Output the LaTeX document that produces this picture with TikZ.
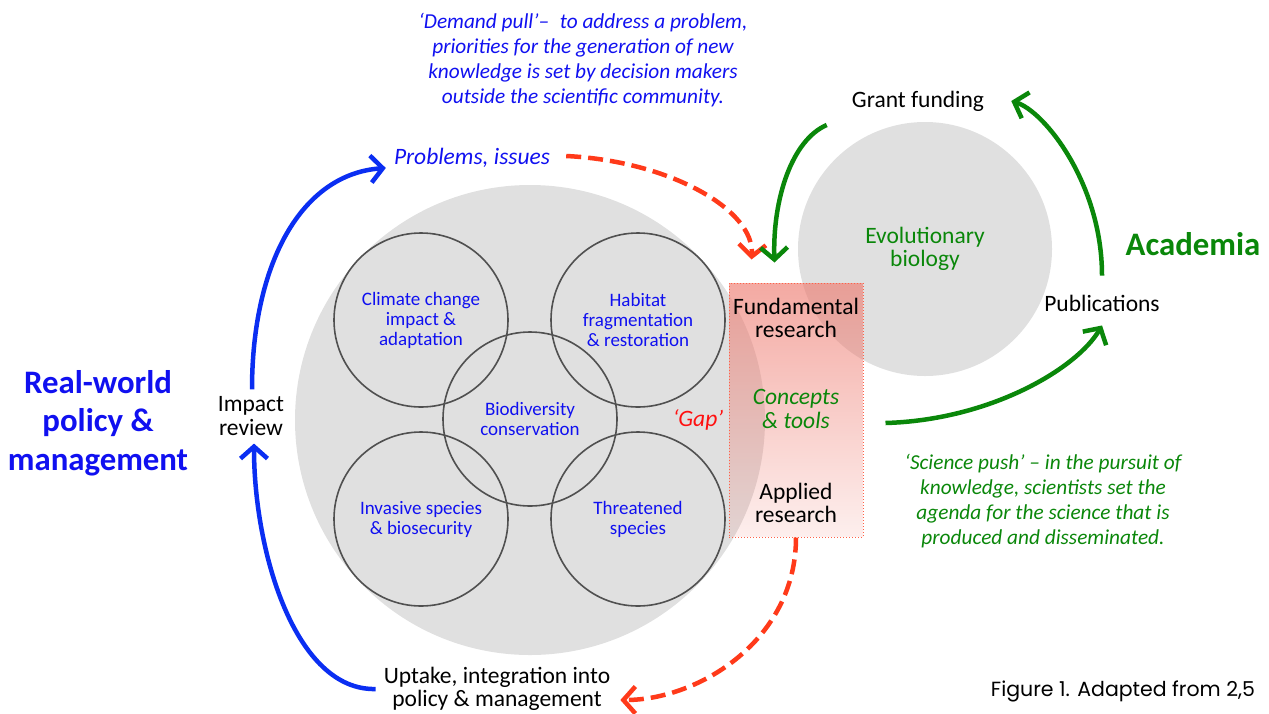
\documentclass[tikz,border=0pt]{standalone}
\usepackage{fontspec}
\setmainfont{Carlito}
\newfontfamily\capfont{Poppins}
\usetikzlibrary{arrows.meta,fadings}
\definecolor{arenagray}{HTML}{E0E0E0}
\definecolor{ringgray}{HTML}{505050}
\definecolor{topicblue}{HTML}{1010F0}
\definecolor{flowblue}{HTML}{0A2EF2}
\definecolor{acadgreen}{HTML}{0A870A}
\definecolor{pullred}{HTML}{FF3A1A}
\definecolor{gapred}{HTML}{EE7B70}
\definecolor{gaptext}{HTML}{FF1010}
\tikzfading[name=gapfade, top color=transparent!35, bottom color=transparent!88]

\begin{document}
\begin{tikzpicture}[x=1pt,y=-1pt,
  every node/.style={inner sep=0pt,align=center},
  txt/.style={font=\fontsize{23.5}{23.5}\selectfont},
  itxt/.style={font=\fontsize{23.5}{23.5}\selectfont\itshape},
  note/.style={font=\fontsize{21.3}{25}\selectfont\itshape},
  head/.style={font=\fontsize{32.8}{38.5}\selectfont\bfseries},
  ring/.style={circle,draw=ringgray,line width=1.6pt,minimum size=174pt,
    text=topicblue,font=\fontsize{19}{20}\selectfont},
  gapbox/.style={draw=pullred!80,dotted,line width=1pt,minimum width=134pt,
    minimum height=254pt,preaction={fill=gapred,path fading=gapfade}},
  tip/.style={-{Straight Barb[length=12pt,width=27pt]}},
  blueflow/.style={tip,flowblue,line width=4.5pt},
  greenflow/.style={tip,acadgreen,line width=4.5pt},
  redflow/.style={tip,pullred,line width=4.5pt,dash pattern=on 15pt off 7pt}]
\useasboundingbox (0,0) rectangle (1269,713);

% research arena and topic rings
\node[circle,fill=arenagray,minimum size=470pt] (arena) at (530,420) {};
\node[ring] (climate) at (421,320) {Climate change\\impact \&\\adaptation};
\node[ring] (habitat) at (638,320) {Habitat\\fragmentation\\\& restoration};
\node[ring] (invasive) at (421,519) {Invasive species\\\& biosecurity};
\node[ring] (threat) at (638,519) {Threatened\\species};
\node[ring] (biodiv) at (530,419) {Biodiversity\\conservation};
\node[circle,fill=arenagray,minimum size=254pt,txt,text=acadgreen] (evo) at (925,249) {Evolutionary\\biology};

% the gap between the two worlds
\node[gapbox] (box) at (796,410) {};
\node[txt] (fund) at (796,318) {Fundamental\\research};
\node[itxt,text=acadgreen] (tools) at (796,409) {Concepts\\\& tools};
\node[txt] (applied) at (796,503) {Applied\\research};
\node[itxt,text=gaptext] (gaplbl) at (698,420) {`Gap'};

% policy side
\node[head,text=topicblue] (world) at (98,423) {Real-world\\policy \&\\management};
\node[txt] (impact) at (251,416) {Impact\\review};
\node[itxt,text=topicblue] (problems) at (472,158) {Problems, issues};
\node[txt] (uptake) at (497,689) {Uptake, integration into\\policy \& management};
\node[note,text=topicblue] (pull) at (583,60) {`Demand pull'--\enspace to address a problem,\\priorities for the generation of new\\knowledge is set by decision makers\\outside the scientific community.};

% academic side
\node[txt] (grant) at (918,101) {Grant funding};
\node[txt] (pubs) at (1102,303) {Publications};
\node[head,text=acadgreen] (academia) at (1193,244) {Academia};
\node[note,text=acadgreen] (push) at (1043,501) {`Science push' -- in the pursuit of\\knowledge, scientists set the\\agenda for the science that is\\produced and disseminated.};
\node[font=\fontsize{20.5}{22}\selectfont\capfont] (figcap) at (1123,691) {Figure 1. Adapted from 2,5};

% flows
\draw[blueflow] ([xshift=1pt,yshift=7pt]impact.north) .. controls +(0,-125) and +(-85,6) .. ([xshift=-8pt,yshift=-10pt]problems.west);
\draw[blueflow] ([xshift=-8pt]uptake.west) .. controls +(-80,2) and +(0,109) .. ([xshift=3pt,yshift=-8pt]impact.south);
\draw[redflow] ([xshift=16pt,yshift=2pt]problems.east) .. controls +(103,5) and +(3,-50) .. ([xshift=23pt,yshift=23pt]box.north west);
\draw[redflow] (box.south) .. controls +(0,103) and +(78,0) .. ([xshift=10pt,yshift=-11pt]uptake.east);
\draw[greenflow] ([xshift=-25pt,yshift=-24pt]grant.west) .. controls +(-35,15) and +(-2,-63) .. ([xshift=46pt,yshift=20pt]box.north west);
\draw[greenflow] ([yshift=19pt]pubs.north) .. controls +(0,-92) and +(33,10) .. ([xshift=27pt]grant.east);
\draw[greenflow] ([xshift=22pt,yshift=-13pt]box.east) .. controls +(105,-3) and +(-25,43) .. ([yshift=-14pt]pubs.south);
\end{tikzpicture}
\end{document}
